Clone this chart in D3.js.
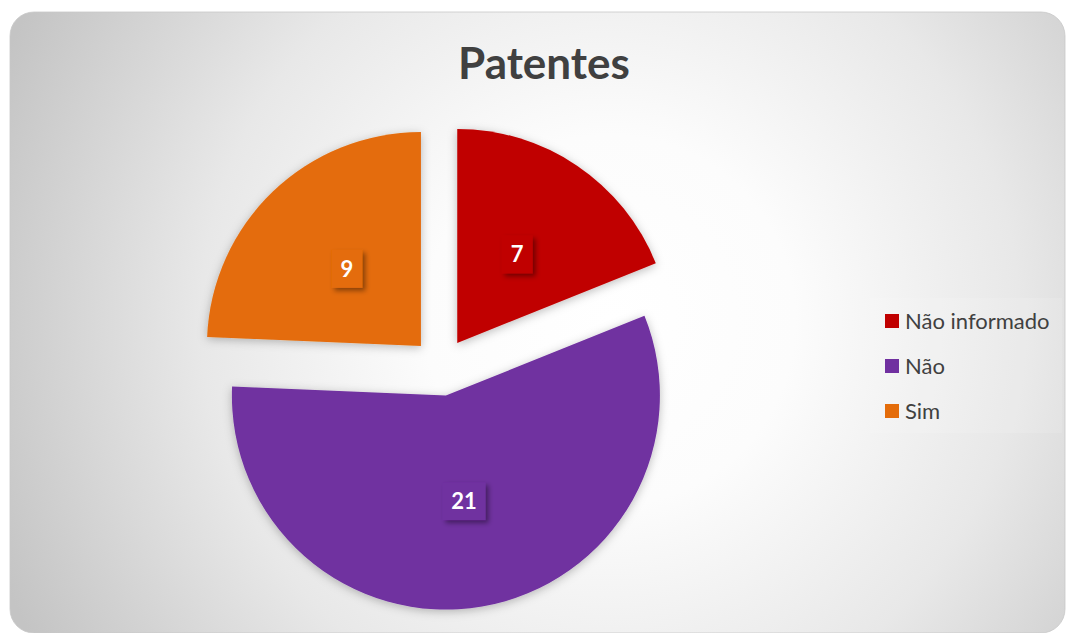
<!DOCTYPE html>
<html>
<head>
<meta charset="utf-8">
<script src="https://cdn.jsdelivr.net/npm/d3@7"></script>
<style>
  html, body { margin: 0; padding: 0; background: #ffffff; }
  svg { display: block; }
</style>
</head>
<body>
<svg id="chart" width="1066" height="633"></svg>
<script>
// Chart data
const title = "Patentes";
const categories = ["Não informado", "Não", "Sim"];
const values = [7, 21, 9];
const sliceColors = ["#C00000", "#7030A0", "#E46C0A"];

const svg = d3.select("#chart");

const defs = svg.append("defs");

// Soft white-centred background of the chart area
const bg = defs.append("radialGradient")
  .attr("id", "bgGrad")
  .attr("gradientUnits", "userSpaceOnUse")
  .attr("cx", 610).attr("cy", 320).attr("r", 660);
bg.append("stop").attr("offset", "0").attr("stop-color", "#ffffff");
bg.append("stop").attr("offset", "0.28").attr("stop-color", "#fcfcfc");
bg.append("stop").attr("offset", "0.62").attr("stop-color", "#e8e8e8");
bg.append("stop").attr("offset", "1").attr("stop-color", "#c4c4c4");

// Shadow around the pie slices
const sliceShadow = defs.append("filter").attr("id", "sliceShadow")
  .attr("x", "-20%").attr("y", "-20%").attr("width", "140%").attr("height", "140%");
sliceShadow.append("feDropShadow")
  .attr("dx", 0).attr("dy", 2).attr("stdDeviation", 5)
  .attr("flood-color", "#000").attr("flood-opacity", 0.26);

// Shadow under the value boxes
const labelShadow = defs.append("filter").attr("id", "labelShadow")
  .attr("x", "-30%").attr("y", "-30%").attr("width", "170%").attr("height", "170%");
labelShadow.append("feDropShadow")
  .attr("dx", 3).attr("dy", 3).attr("stdDeviation", 2.5)
  .attr("flood-color", "#000").attr("flood-opacity", 0.4);

// Chart area
svg.append("rect")
  .attr("x", 10).attr("y", 12)
  .attr("width", 1055).attr("height", 621)
  .attr("rx", 24).attr("ry", 24)
  .attr("fill", "url(#bgGrad)")
  .attr("stroke", "#c8c8c8").attr("stroke-width", 0.8);

// Title
svg.append("text")
  .attr("x", 544).attr("y", 79)
  .attr("text-anchor", "middle")
  .attr("font-family", "Lato, 'Open Sans', sans-serif")
  .attr("font-weight", "bold")
  .attr("font-size", 44)
  .attr("fill", "#404040")
  .text(title);

// Pie
const cx = 441, cy = 367, radius = 214, explode = 29;
const color = d3.scaleOrdinal().domain(categories).range(sliceColors);

const pie = d3.pie().sort(null).value(d => d.value)
  .startAngle(0).endAngle(2 * Math.PI);
const arcs = pie(categories.map((c, i) => ({ name: c, value: values[i] })));

const arc = d3.arc().innerRadius(0).outerRadius(radius);

function offset(d) {
  const a = (d.startAngle + d.endAngle) / 2;
  return [explode * Math.sin(a), -explode * Math.cos(a)];
}

const g = svg.append("g").attr("transform", `translate(${cx},${cy})`);

g.selectAll("path.slice")
  .data(arcs)
  .join("path")
  .attr("class", "slice")
  .attr("transform", d => { const o = offset(d); return `translate(${o[0]},${o[1]})`; })
  .attr("d", arc)
  .attr("fill", d => color(d.data.name))
  .attr("filter", "url(#sliceShadow)");

// Value labels in boxes
const labels = g.selectAll("g.lbl")
  .data(arcs)
  .join("g")
  .attr("class", "lbl")
  .attr("transform", d => {
    const o = offset(d), c = arc.centroid(d);
    return `translate(${c[0] + o[0]},${c[1] + o[1]})`;
  });

labels.each(function (d) {
  const sel = d3.select(this);
  const txt = String(d.data.value);
  const w = 12 * txt.length + 19;
  sel.append("rect")
    .attr("x", -w / 2).attr("y", -19)
    .attr("width", w).attr("height", 38)
    .attr("fill", color(d.data.name))
    .attr("filter", "url(#labelShadow)");
  sel.append("text")
    .attr("text-anchor", "middle")
    .attr("dy", 8)
    .attr("font-family", "Lato, 'Open Sans', sans-serif")
    .attr("font-weight", "bold")
    .attr("font-size", 22)
    .attr("fill", "#ffffff")
    .text(txt);
});

// Legend
const legend = svg.append("g");
legend.append("rect")
  .attr("x", 870).attr("y", 298)
  .attr("width", 192).attr("height", 135)
  .attr("fill", "#ffffff").attr("fill-opacity", 0.12);

const legendY = d3.scalePoint().domain(categories).range([321, 411]);

const items = legend.selectAll("g.item")
  .data(categories)
  .join("g")
  .attr("class", "item")
  .attr("transform", d => `translate(885,${legendY(d)})`);

items.append("rect")
  .attr("x", 0).attr("y", -7)
  .attr("width", 14).attr("height", 14)
  .attr("fill", d => color(d));

items.append("text")
  .attr("x", 20).attr("dy", 7.5)
  .attr("font-family", "Lato, 'Open Sans', sans-serif")
  .attr("font-size", 22)
  .attr("fill", "#404040")
  .text(d => d);
</script>
</body>
</html>
